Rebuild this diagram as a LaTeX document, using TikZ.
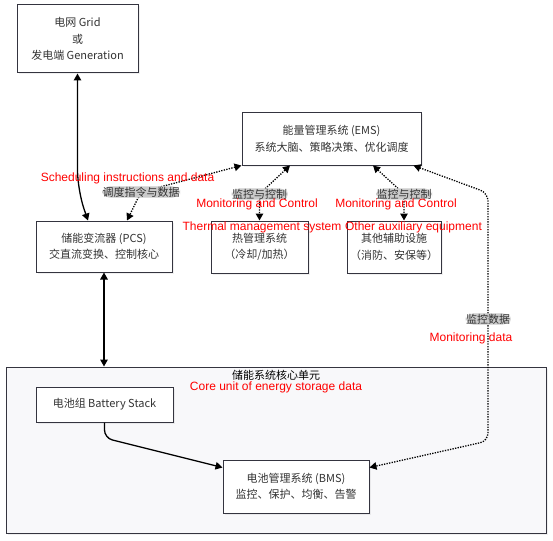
\documentclass[tikz,border=0pt]{standalone}
\usepackage{fontspec}
\usepackage{tikz}
\usetikzlibrary{arrows.meta,positioning,shadows}
\newfontfamily\cjk{Noto Sans CJK SC}
\newfontfamily\arial{Liberation Sans}
\definecolor{boxline}{HTML}{34343F}
\definecolor{textgray}{HTML}{333333}
\definecolor{corefill}{HTML}{F8F8FA}
\definecolor{taggray}{HTML}{CACACA}
\newcommand{\boxfont}{\cjk\fontsize{11}{16.5}\selectfont}
\newcommand{\notefont}{\arial\fontsize{12}{14}\selectfont}
\tikzset{block/.style={draw=boxline,fill=white,line width=1pt,align=center,text=textgray,font=\boxfont,inner sep=2pt,drop shadow={shadow xshift=1.5pt,shadow yshift=-1.5pt,opacity=0.12}},group/.style={draw=boxline,fill=corefill,line width=1pt,drop shadow={shadow xshift=1.5pt,shadow yshift=-1.5pt,opacity=0.12}},flow/.style={line width=1.3pt,draw=black,rounded corners=8pt},twoway/.style={flow,{Triangle[length=7pt,width=7.5pt]}-{Triangle[length=7pt,width=7.5pt]}},oneway/.style={flow,-{Triangle[length=7pt,width=7.5pt]}},ctrl/.style={twoway,dash pattern=on 1.3pt off 1.3pt},tag/.style={fill=taggray,text=textgray,font=\boxfont,inner sep=0.5pt},note/.style={text=red,font=\notefont,inner sep=0pt}}

\begin{document}
\begin{tikzpicture}[x=1pt,y=-1pt]
\useasboundingbox (0,0) rectangle (553,540);
\node[group,minimum width=540pt,minimum height=166pt] (core) at(276,450){};
\node[font=\boxfont,text=black,inner sep=0pt] (corelbl) at(276,375){储能系统核心单元};
\node[note] (corenote) at(276,387.5){Core unit of energy storage data};
\node[block,minimum width=121pt,minimum height=68pt] (grid) at(77.5,39){电网 Grid\\或\\发电端 Generation};
\node[block,minimum width=179pt,minimum height=52pt] (ems) at(331.5,139){能量管理系统 (EMS)\\系统大脑、策略决策、优化调度};
\node[block,minimum width=136pt,minimum height=51pt] (pcs) at(104,246.5){储能变流器 (PCS)\\交直流变换、控制核心};
\node[block,minimum width=97pt,minimum height=52pt] (thermal) at(259.5,247){热管理系统\\（冷却/加热）};
\node[block,minimum width=94pt,minimum height=52pt] (aux) at(394,247){其他辅助设施\\（消防、安保等）};
\node[block,minimum width=137pt,minimum height=35pt] (battery) at(104.5,404.5){电池组 Battery Stack};
\node[block,minimum width=146pt,minimum height=53pt] (bms) at(296,486.5){电池管理系统 (BMS)\\监控、保护、均衡、告警};
\draw[twoway,rounded corners=20pt](grid.south)--(77.5,190)--([xshift=-16pt]pcs.north);
\draw[twoway](pcs.south)--(pcs.south|-core.north);
\draw[ctrl](ems.south west)--(141,192)node[tag](tagpcs){调度指令与数据}--([xshift=23pt]pcs.north);
\draw[ctrl]([xshift=-41.5pt]ems.south)--(259.5,194)node[tag](tagthm){监控与控制}--(thermal.north);
\draw[ctrl]([xshift=41.5pt]ems.south)--(404,194)node[tag](tagaux){监控与控制}--([xshift=10pt]aux.north);
\draw[ctrl]([xshift=-8pt]ems.south east)--(488,193)--(488,319)node[tag](tagbms){监控数据}--(488,441)--([yshift=19pt]bms.east);
\draw[oneway](battery.south)--(104.5,438)--([yshift=19pt]bms.west);
\node[note] (pcsnote) at(127.5,178.5){Scheduling instructions and data};
\node[note] (thmnote) at(257,204.5){Monitoring and Control};
\node[note] (auxnote) at(396,204.5){Monitoring and Control};
\node[note] (thmname) at(262,227){Thermal management system};
\node[note] (auxname) at(413.5,227){Other auxiliary equipment};
\node[note] (bmsnote) at(471,338.5){Monitoring data};
\end{tikzpicture}
\end{document}
